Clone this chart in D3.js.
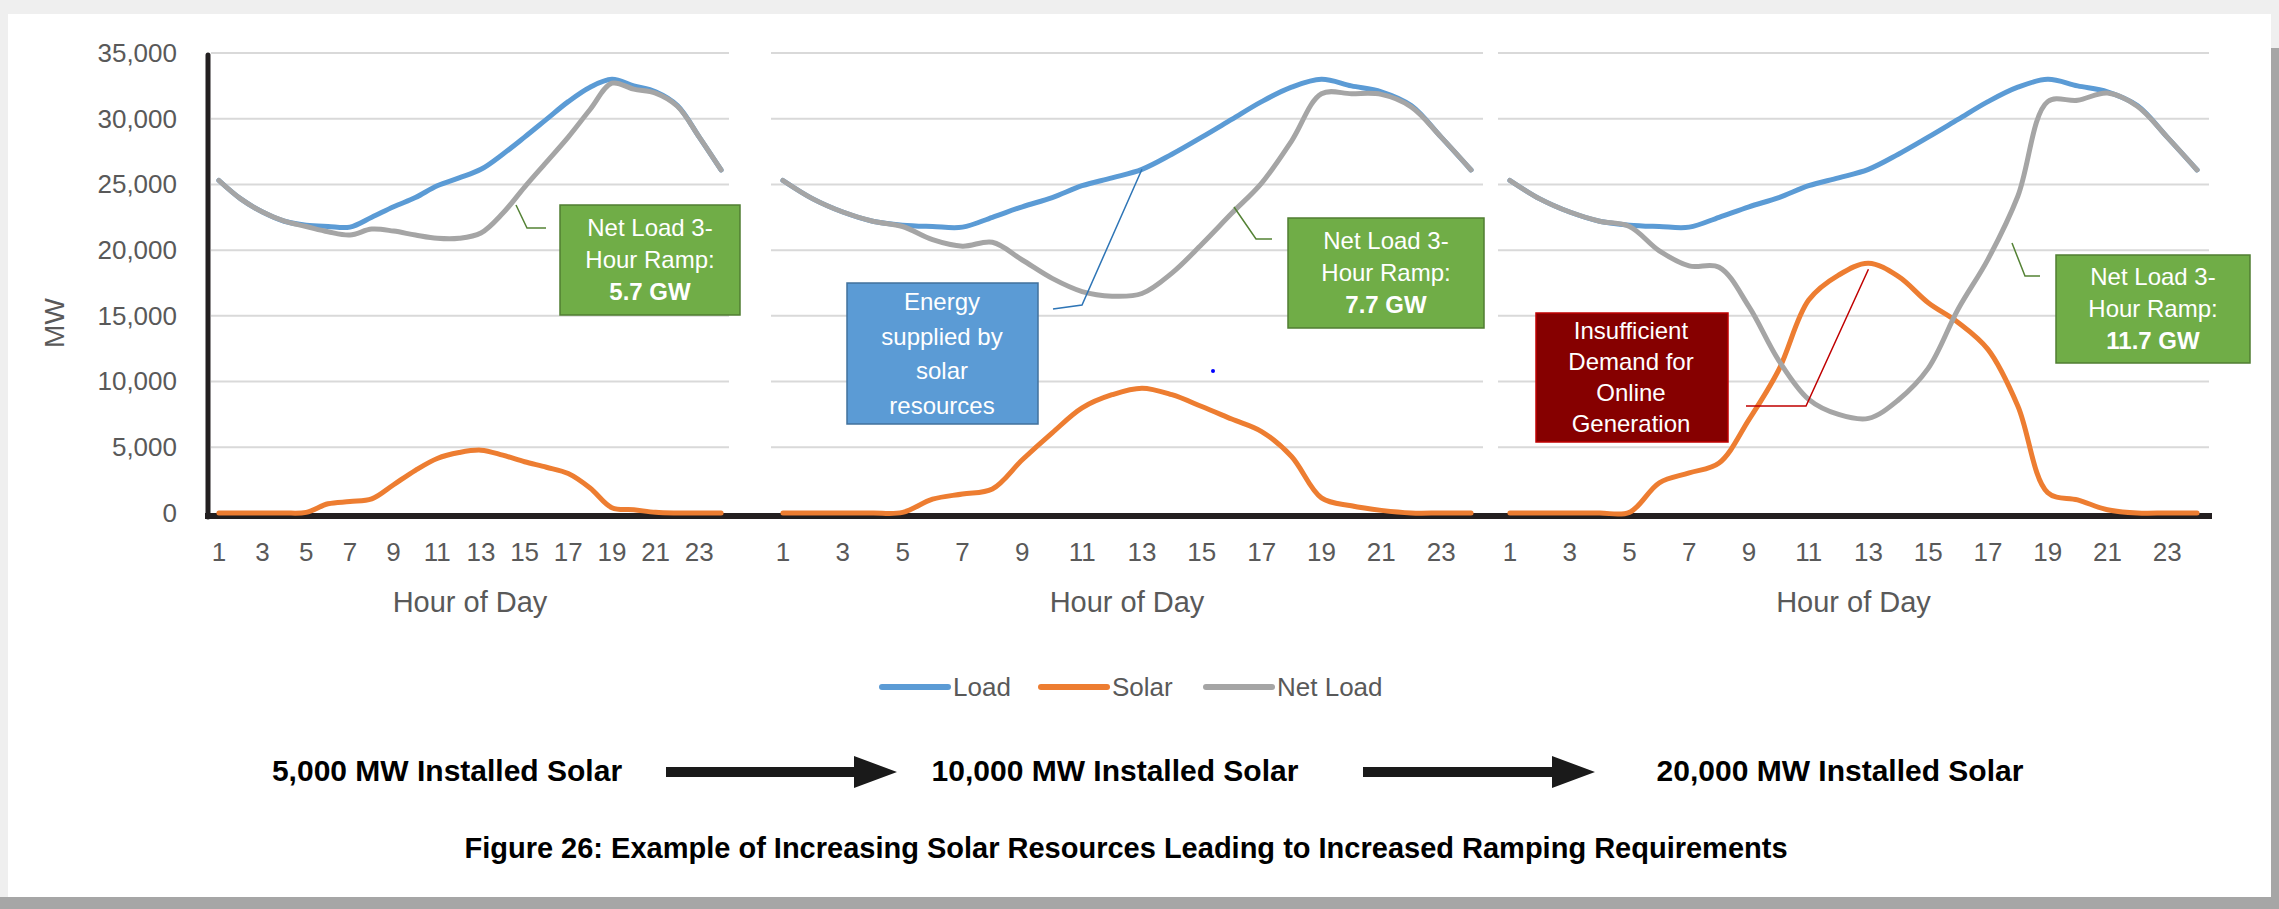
<!DOCTYPE html>
<html>
<head>
<meta charset="utf-8">
<script src="https://cdn.jsdelivr.net/npm/d3@7"></script>
<style>
  body { margin: 0; background: #fff; }
  svg text { font-family: "Liberation Sans", Arial, sans-serif; }
</style>
</head>
<body>
<div id="chart"></div>
<script>
// chart values
var hours = [1, 2, 3, 4, 5, 6, 7, 8, 9, 10, 11, 12, 13, 14, 15, 16, 17, 18, 19, 20, 21, 22, 23, 24];
var hourTicks = [1, 3, 5, 7, 9, 11, 13, 15, 17, 19, 21, 23];
var mwTicks = [0, 5000, 10000, 15000, 20000, 25000, 30000, 35000];

var load = [25300, 23900, 22900, 22200, 21900, 21800, 21750, 22500, 23300, 24000, 24900, 25500,
            26150, 27300, 28600, 29950, 31300, 32400, 33000, 32500, 32050, 31000, 28600, 26100];

var solar5000 = [0, 0, 0, 0, 50, 700, 870, 1070, 2150, 3250, 4150, 4600,
                 4780, 4400, 3900, 3480, 3000, 1900, 400, 250, 50, 0, 0, 0];
var netLoad5000 = [25300, 23900, 22900, 22200, 21800, 21400, 21150, 21600, 21450, 21150, 20900, 20900,
                   21300, 22800, 24800, 26700, 28600, 30700, 32700, 32250, 31950, 30950, 28600, 26100];

var solar10000 = [0, 0, 0, 0, 50, 1050, 1450, 1830, 4050, 6100, 8000, 9000,
                  9500, 9000, 8100, 7150, 6200, 4300, 1150, 550, 200, 0, 0, 0];
var netLoad10000 = [25300, 23900, 22900, 22200, 21800, 20800, 20300, 20600, 19250, 17850, 16850, 16500,
                    16700, 18250, 20450, 22800, 25100, 28300, 31900, 31900, 31850, 30900, 28600, 26100];

var solar20000 = [0, 0, 0, 0, 50, 2300, 3050, 3800, 7100, 10900, 16200, 18100,
                  19000, 18000, 16000, 14500, 12450, 8150, 1550, 1000, 250, 0, 0, 0];
var netLoad20000 = [25300, 23900, 22900, 22200, 21800, 19950, 18800, 18700, 15700, 11600, 8650, 7500,
                    7200, 8600, 11000, 15500, 19300, 24100, 31300, 31400, 31950, 30950, 28600, 26100];

var seriesNames = ["Load", "Solar", "Net Load"];
var seriesColors = ["#5b9bd5", "#ed7d31", "#a5a5a5"];
var installedLabels = ["5,000 MW Installed Solar", "10,000 MW Installed Solar", "20,000 MW Installed Solar"];
var rampLabels = ["5.7 GW", "7.7 GW", "11.7 GW"];
var captionText = "Figure 26: Example of Increasing Solar Resources Leading to Increased Ramping Requirements";

// layout of the three small charts
var panels = [
    { solar: solar5000, net: netLoad5000, left: 208, right: 732,
      box: [560, 205, 180, 110], leader: [[516, 205], [527, 228], [546, 228]], labelX: 447 },
    { solar: solar10000, net: netLoad10000, left: 768, right: 1486,
      box: [1288, 218, 196, 110], leader: [[1234, 207], [1256, 239], [1272, 239]], labelX: 1115 },
    { solar: solar20000, net: netLoad20000, left: 1495, right: 2212,
      box: [2056, 255, 194, 108], leader: [[2012, 243], [2025, 276], [2040, 276]], labelX: 1840 }
];

var svg = d3.select("#chart").append("svg")
    .attr("width", 2279)
    .attr("height", 909);

// page frame of the screenshot
svg.append("rect").attr("width", 2279).attr("height", 909).attr("fill", "#efefef");
svg.append("rect").attr("x", 8).attr("y", 14).attr("width", 2263).attr("height", 883).attr("fill", "#fff");
svg.append("rect").attr("x", 0).attr("y", 897).attr("width", 2279).attr("height", 12).attr("fill", "#a6a6a6");
svg.append("rect").attr("x", 2271).attr("y", 48).attr("width", 8).attr("height", 861).attr("fill", "#a6a6a6");

var y = d3.scaleLinear()
    .domain([0, 35000])
    .range([513, 53]);

// y axis labels
svg.append("g")
    .attr("transform", "translate(208,0)")
    .call(d3.axisLeft(y).tickValues(mwTicks).tickFormat(d3.format(",")).tickSize(0).tickPadding(31))
    .attr("font-family", null)
    .attr("font-size", 26)
    .attr("color", "#595959")
    .call(function (g) { g.select(".domain").remove(); });

svg.append("text")
    .attr("transform", "translate(54,323) rotate(-90)")
    .attr("text-anchor", "middle")
    .attr("dy", "0.35em")
    .attr("font-size", 28)
    .attr("fill", "#595959")
    .text("MW");

// gridlines first so the axes and lines sit on top
panels.forEach(function (p) {
    svg.append("g").selectAll("line")
        .data(mwTicks.slice(1))
        .enter().append("line")
        .attr("x1", p.left + 3)
        .attr("x2", p.right - 3)
        .attr("y1", function (d) { return y(d); })
        .attr("y2", function (d) { return y(d); })
        .attr("stroke", "#d9d9d9")
        .attr("stroke-width", 2);
});

// thick black axes
svg.append("line")
    .attr("x1", 208).attr("x2", 208)
    .attr("y1", y(35000) + 2).attr("y2", y(0) + 4)
    .attr("stroke", "#231f20").attr("stroke-width", 5).attr("stroke-linecap", "round");
svg.append("line")
    .attr("x1", 205).attr("x2", panels[2].right)
    .attr("y1", y(0) + 3).attr("y2", y(0) + 3)
    .attr("stroke", "#231f20").attr("stroke-width", 6);

panels.forEach(function (p, i) {
    var x = d3.scaleBand()
        .domain(hours)
        .range([p.left, p.right]);
    var cx = function (h) { return x(h) + x.bandwidth() / 2; };

    // x axis labels
    svg.append("g")
        .attr("transform", "translate(0," + y(0) + ")")
        .call(d3.axisBottom(x).tickValues(hourTicks).tickSize(0).tickPadding(30))
        .attr("font-family", null)
        .attr("font-size", 26)
        .attr("color", "#595959")
        .call(function (g) { g.select(".domain").remove(); });

    svg.append("text")
        .attr("x", (p.left + p.right) / 2)
        .attr("y", 602)
        .attr("dy", "0.35em")
        .attr("text-anchor", "middle")
        .attr("font-size", 29)
        .attr("fill", "#595959")
        .text("Hour of Day");

    var line = d3.line()
        .x(function (d, j) { return cx(hours[j]); })
        .y(function (d) { return y(d); })
        .curve(d3.curveCatmullRom.alpha(0.5));

    [load, p.solar, p.net].forEach(function (values, k) {
        svg.append("path")
            .datum(values)
            .attr("d", line)
            .attr("fill", "none")
            .attr("stroke", seriesColors[k])
            .attr("stroke-width", 5)
            .attr("stroke-linejoin", "round")
            .attr("stroke-linecap", "round");
    });

    // green ramp callout
    svg.append("polyline")
        .attr("points", p.leader.join(" "))
        .attr("fill", "none")
        .attr("stroke", "#548235")
        .attr("stroke-width", 1.5);
    svg.append("rect")
        .attr("x", p.box[0]).attr("y", p.box[1])
        .attr("width", p.box[2]).attr("height", p.box[3])
        .attr("fill", "#70ad47").attr("stroke", "#507e32").attr("stroke-width", 1.5);
    var bx = p.box[0] + p.box[2] / 2;
    var by = p.box[1] + p.box[3] / 2;
    ["Net Load 3-", "Hour Ramp:", rampLabels[i]].forEach(function (t, k) {
        svg.append("text")
            .attr("x", bx)
            .attr("y", by + (k - 1) * 32)
            .attr("dy", "0.35em")
            .attr("text-anchor", "middle")
            .attr("font-size", 24)
            .attr("font-weight", k === 2 ? "bold" : "normal")
            .attr("fill", "#fff")
            .text(t);
    });
});

// "Energy supplied by solar resources" callout (middle chart)
var x2 = d3.scaleBand().domain(hours).range([panels[1].left, panels[1].right]);
svg.append("polyline")
    .attr("points", [[1053, 309], [1082, 305], [x2(13) + x2.bandwidth() / 2, y(load[12])]].join(" "))
    .attr("fill", "none").attr("stroke", "#2e75b6").attr("stroke-width", 1.5);
svg.append("rect")
    .attr("x", 847).attr("y", 283).attr("width", 191).attr("height", 141)
    .attr("fill", "#5b9bd5").attr("stroke", "#41719c").attr("stroke-width", 1.5);
["Energy", "supplied by", "solar", "resources"].forEach(function (t, k) {
    svg.append("text")
        .attr("x", 942).attr("y", 302 + k * 34.5)
        .attr("dy", "0.35em").attr("text-anchor", "middle")
        .attr("font-size", 24).attr("fill", "#fff")
        .text(t);
});
svg.append("circle").attr("cx", 1213).attr("cy", 371).attr("r", 2).attr("fill", "#0000ff");

// "Insufficient Demand" callout (right chart)
var x3 = d3.scaleBand().domain(hours).range([panels[2].left, panels[2].right]);
svg.append("polyline")
    .attr("points", [[1746, 406], [1806, 406], [x3(13) + x3.bandwidth() / 2, y(solar20000[12]) + 6]].join(" "))
    .attr("fill", "none").attr("stroke", "#c00000").attr("stroke-width", 1.5);
svg.append("rect")
    .attr("x", 1536).attr("y", 313).attr("width", 192).attr("height", 129)
    .attr("fill", "#860000").attr("stroke", "#c00000").attr("stroke-width", 1.5);
["Insufficient", "Demand for", "Online", "Generation"].forEach(function (t, k) {
    svg.append("text")
        .attr("x", 1631).attr("y", 331 + k * 31)
        .attr("dy", "0.35em").attr("text-anchor", "middle")
        .attr("font-size", 24).attr("fill", "#fff")
        .text(t);
});

// legend
var legendX = [882, 1041, 1206];
seriesNames.forEach(function (name, k) {
    svg.append("line")
        .attr("x1", legendX[k]).attr("x2", legendX[k] + 66)
        .attr("y1", 687).attr("y2", 687)
        .attr("stroke", seriesColors[k]).attr("stroke-width", 6).attr("stroke-linecap", "round");
    svg.append("text")
        .attr("x", legendX[k] + 71).attr("y", 687)
        .attr("dy", "0.35em")
        .attr("font-size", 26).attr("fill", "#595959")
        .text(name);
});

// installed solar labels with arrows between them
panels.forEach(function (p, i) {
    svg.append("text")
        .attr("x", p.labelX).attr("y", 770)
        .attr("dy", "0.35em").attr("text-anchor", "middle")
        .attr("font-size", 30).attr("font-weight", "bold").attr("fill", "#000")
        .text(installedLabels[i]);
});
[[666, 897], [1363, 1595]].forEach(function (a) {
    var cy = 772;
    svg.append("path")
        .attr("d", "M" + a[0] + "," + (cy - 5) + "H" + (a[1] - 43) + "V" + (cy - 16) +
            "L" + a[1] + "," + cy + "L" + (a[1] - 43) + "," + (cy + 16) + "V" + (cy + 5) +
            "H" + a[0] + "Z")
        .attr("fill", "#1a1a1a");
});

svg.append("text")
    .attr("x", 1126).attr("y", 848)
    .attr("dy", "0.35em").attr("text-anchor", "middle")
    .attr("font-size", 29).attr("font-weight", "bold").attr("fill", "#000")
    .text(captionText);
</script>
</body>
</html>
